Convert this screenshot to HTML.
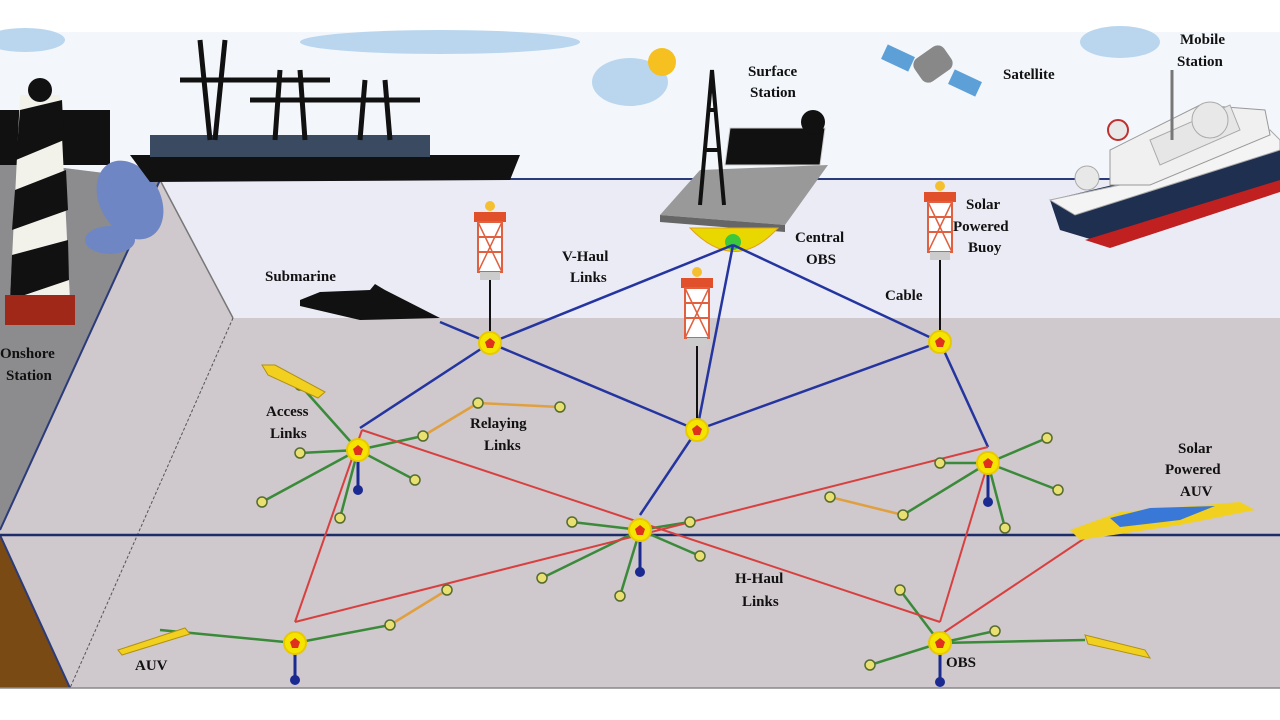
<!DOCTYPE html>
<html><head><meta charset="utf-8"><style>
html,body{margin:0;padding:0;background:#fff;}
svg{display:block;}
text{font-family:"Liberation Serif",serif;font-weight:bold;font-size:15px;fill:#111;}
</style></head><body>
<svg width="1280" height="720" viewBox="0 0 1280 720" xmlns="http://www.w3.org/2000/svg">
<defs>
<g id="node"><circle r="11" fill="#f5e400" stroke="#e8c800" stroke-width="2"/><polygon points="0,-5 5,-1 3,5 -3,5 -5,-1" fill="#e0301e"/></g>
<g id="leaf"><circle r="5" fill="#e8e070" stroke="#556b2f" stroke-width="1.5"/></g>
<g id="buoy"><rect x="-16" y="0" width="32" height="10" fill="#e0502a"/><rect x="-12" y="10" width="24" height="50" fill="#fff" stroke="#e06040" stroke-width="2"/><line x1="-12" y1="25" x2="12" y2="25" stroke="#e06040" stroke-width="2"/><line x1="-12" y1="40" x2="12" y2="40" stroke="#e06040" stroke-width="2"/><path d="M-12 10 L12 60 M12 10 L-12 60" stroke="#e06040" stroke-width="1.5"/><circle cx="0" cy="-6" r="5" fill="#f5c030"/><rect x="-10" y="60" width="20" height="8" fill="#ccc"/></g>
</defs>
<rect x="0" y="32" width="1280" height="148" fill="#f3f7fb"/>
<ellipse cx="25" cy="40" rx="40" ry="12" fill="#b9d6ee"/>
<ellipse cx="440" cy="42" rx="140" ry="12" fill="#b9d6ee"/>
<ellipse cx="1120" cy="42" rx="40" ry="16" fill="#b9d6ee"/>
<ellipse cx="630" cy="82" rx="38" ry="24" fill="#b9d6ee"/>
<circle cx="662" cy="62" r="14" fill="#f5c020"/>
<rect x="0" y="178" width="1280" height="142" fill="#ebebf6"/>
<line x1="0" y1="179" x2="1280" y2="179" stroke="#2b3b7a" stroke-width="2"/>
<rect x="0" y="318" width="1280" height="370" fill="#cfc8cc"/>
<polygon points="0,160 160,180 233,318 0,318" fill="#cfc8cc"/>
<polygon points="0,160 160,180 0,530" fill="#8c8c8e"/>
<line x1="160" y1="180" x2="233" y2="318" stroke="#777" stroke-width="1.5"/>
<line x1="160" y1="180" x2="0" y2="530" stroke="#2b3b7a" stroke-width="2"/>
<line x1="233" y1="318" x2="70" y2="688" stroke="#555" stroke-width="1" stroke-dasharray="3,2"/>
<polygon points="0,535 70,688 0,688" fill="#7a4a14"/>
<line x1="0" y1="535" x2="70" y2="688" stroke="#2b3b7a" stroke-width="2"/>
<line x1="0" y1="535" x2="1280" y2="535" stroke="#1d2d6a" stroke-width="2.5"/>
<line x1="0" y1="688" x2="1280" y2="688" stroke="#888" stroke-width="1.5"/>
<rect x="0" y="110" width="110" height="55" fill="#111"/>
<polygon points="20,95 60,95 70,300 10,300" fill="#f2f2ea"/>
<path d="M20,110 L62,100 L64,140 L16,160 Z M15,190 L66,170 L68,210 L12,230 Z M12,255 L68,240 L69,280 L10,300 Z" fill="#111"/>
<rect x="5" y="295" width="70" height="30" fill="#a02818"/>
<circle cx="40" cy="90" r="12" fill="#111"/>
<ellipse cx="130" cy="200" rx="30" ry="42" fill="#6f86c4" transform="rotate(-30 130 200)"/>
<ellipse cx="110" cy="240" rx="25" ry="14" fill="#6f86c4"/>
<polygon points="130,155 520,155 510,180 150,182" fill="#111"/>
<rect x="150" y="135" width="280" height="22" fill="#3a4a60"/>
<path d="M180,80 L330,80 M200,40 L210,140 M225,40 L215,140 M250,100 L370,100 M280,70 L275,140 M300,70 L305,140 M340,100 L420,100 M365,80 L360,140 M385,80 L390,140" stroke="#111" stroke-width="5" fill="none"/>
<polygon points="660,215 700,170 828,165 785,225" fill="#999"/>
<polygon points="660,215 785,225 785,232 660,222" fill="#666"/>
<polygon points="730,128 825,128 820,165 725,165" fill="#111" stroke="#ccc"/>
<path d="M700,205 L712,70 L724,205 M705,150 L720,150 M708,110 L717,110" stroke="#111" stroke-width="4" fill="none"/>
<path d="M690,228 Q735,275 778,228 Z" fill="#e8d800" stroke="#e0a020"/>
<circle cx="733" cy="242" r="8" fill="#3cc83c"/>
<circle cx="813" cy="122" r="12" fill="#111"/>
<rect x="883" y="50" width="30" height="16" fill="#5da0d8" transform="rotate(25 898 58)"/>
<rect x="950" y="75" width="30" height="16" fill="#5da0d8" transform="rotate(25 965 83)"/>
<rect x="915" y="50" width="36" height="28" rx="8" fill="#888" transform="rotate(-35 933 64)"/>
<!-- ship -->
<polygon points="1050,200 1280,145 1280,185 1110,245 1060,230" fill="#1f2f4f"/>
<polygon points="1085,240 1280,180 1280,192 1110,248" fill="#c02020"/>
<polygon points="1050,200 1120,185 1270,130 1280,140 1280,150 1075,215" fill="#f4f4f4" stroke="#aaa"/>
<polygon points="1110,185 1110,150 1200,105 1265,110 1270,135 1150,185" fill="#f0f0f0" stroke="#999"/>
<polygon points="1150,140 1230,105 1240,130 1160,165" fill="#e6e6e6" stroke="#aaa"/>
<line x1="1172" y1="70" x2="1172" y2="140" stroke="#777" stroke-width="3"/>
<circle cx="1210" cy="120" r="18" fill="#e8e8e8" stroke="#aaa"/>
<circle cx="1087" cy="178" r="12" fill="#e8e8e8" stroke="#aaa"/>
<circle cx="1118" cy="130" r="10" fill="#e8e8e8" stroke="#c03030" stroke-width="2"/>
<use href="#buoy" x="490" y="212"/><line x1="490" y1="280" x2="490" y2="332" stroke="#111" stroke-width="2"/>
<use href="#buoy" x="697" y="278"/><line x1="697" y1="346" x2="697" y2="420" stroke="#111" stroke-width="2"/>
<use href="#buoy" x="940" y="192"/><line x1="940" y1="260" x2="940" y2="332" stroke="#111" stroke-width="2"/>
<path d="M300,300 L320,292 L370,290 L375,284 L385,290 L440,318 L360,320 L300,306 Z" fill="#111"/>
<g stroke="#3a8a3a" stroke-width="2.5">
<line x1="358" y1="450" x2="300" y2="385"/><line x1="358" y1="450" x2="300" y2="453"/><line x1="358" y1="450" x2="262" y2="502"/><line x1="358" y1="450" x2="340" y2="518"/><line x1="358" y1="450" x2="423" y2="436"/><line x1="358" y1="450" x2="415" y2="480"/>
<line x1="640" y1="530" x2="572" y2="522"/><line x1="640" y1="530" x2="542" y2="578"/><line x1="640" y1="530" x2="620" y2="596"/><line x1="640" y1="530" x2="700" y2="556"/><line x1="640" y1="530" x2="690" y2="522"/>
<line x1="988" y1="463" x2="940" y2="463"/><line x1="988" y1="463" x2="1047" y2="438"/><line x1="988" y1="463" x2="1058" y2="490"/><line x1="988" y1="463" x2="1005" y2="528"/><line x1="988" y1="463" x2="903" y2="515"/>
<line x1="295" y1="643" x2="160" y2="630"/><line x1="295" y1="643" x2="390" y2="625"/>
<line x1="940" y1="643" x2="870" y2="665"/><line x1="940" y1="643" x2="995" y2="631"/><line x1="940" y1="643" x2="1085" y2="640"/><line x1="940" y1="643" x2="900" y2="590"/>
</g>
<g stroke="#e0a040" stroke-width="2.5">
<line x1="423" y1="436" x2="478" y2="403"/><line x1="478" y1="403" x2="560" y2="407"/><line x1="830" y1="497" x2="903" y2="515"/><line x1="390" y1="625" x2="447" y2="590"/>
</g>
<g stroke="#2535a0" stroke-width="2.5">
<line x1="733" y1="245" x2="490" y2="343"/><line x1="733" y1="245" x2="697" y2="430"/><line x1="733" y1="245" x2="940" y2="342"/>
<line x1="490" y1="343" x2="360" y2="428"/><line x1="490" y1="343" x2="697" y2="430"/><line x1="697" y1="430" x2="940" y2="342"/><line x1="940" y1="342" x2="988" y2="447"/><line x1="697" y1="430" x2="640" y2="515"/>
<line x1="440" y1="322" x2="490" y2="343"/>
</g>
<g stroke="#d84040" stroke-width="2">
<line x1="362" y1="430" x2="295" y2="622"/><line x1="295" y1="622" x2="988" y2="447"/><line x1="362" y1="430" x2="940" y2="622"/><line x1="988" y1="463" x2="940" y2="622"/><line x1="940" y1="635" x2="1085" y2="538"/>
</g>
<g stroke="#1a2a90" stroke-width="3"><line x1="358" y1="450" x2="358" y2="488"/><line x1="640" y1="530" x2="640" y2="570"/><line x1="988" y1="463" x2="988" y2="500"/><line x1="295" y1="643" x2="295" y2="680"/><line x1="940" y1="643" x2="940" y2="682"/></g>
<g fill="#1a2a90"><circle cx="358" cy="490" r="5"/><circle cx="640" cy="572" r="5"/><circle cx="988" cy="502" r="5"/><circle cx="295" cy="680" r="5"/><circle cx="940" cy="682" r="5"/></g>
<g>
<use href="#leaf" x="300" y="385"/><use href="#leaf" x="300" y="453"/><use href="#leaf" x="262" y="502"/><use href="#leaf" x="340" y="518"/><use href="#leaf" x="423" y="436"/><use href="#leaf" x="415" y="480"/><use href="#leaf" x="478" y="403"/><use href="#leaf" x="560" y="407"/>
<use href="#leaf" x="572" y="522"/><use href="#leaf" x="542" y="578"/><use href="#leaf" x="620" y="596"/><use href="#leaf" x="700" y="556"/><use href="#leaf" x="690" y="522"/>
<use href="#leaf" x="940" y="463"/><use href="#leaf" x="1047" y="438"/><use href="#leaf" x="1058" y="490"/><use href="#leaf" x="1005" y="528"/><use href="#leaf" x="903" y="515"/><use href="#leaf" x="830" y="497"/>
<use href="#leaf" x="390" y="625"/><use href="#leaf" x="447" y="590"/><use href="#leaf" x="870" y="665"/><use href="#leaf" x="995" y="631"/><use href="#leaf" x="900" y="590"/>
</g>
<use href="#node" x="490" y="343"/><use href="#node" x="697" y="430"/><use href="#node" x="940" y="342"/><use href="#node" x="358" y="450"/><use href="#node" x="640" y="530"/><use href="#node" x="988" y="463"/><use href="#node" x="295" y="643"/><use href="#node" x="940" y="643"/>
<polygon points="262,365 275,365 325,392 318,398 268,375" fill="#f2d020" stroke="#b09010"/>
<polygon points="118,650 185,628 190,634 122,655" fill="#f2d020" stroke="#b09010"/>
<polygon points="1085,635 1145,650 1150,658 1088,644" fill="#f2d020" stroke="#b09010"/>
<polygon points="1070,530 1120,512 1240,502 1255,510 1180,525 1080,540" fill="#f2d020"/>
<polygon points="1110,518 1150,508 1215,506 1180,520 1120,527" fill="#3a78d8"/>
<text x="748" y="76">Surface</text><text x="750" y="97">Station</text>
<text x="1003" y="79">Satellite</text>
<text x="1180" y="44">Mobile</text><text x="1177" y="66">Station</text>
<text x="966" y="209">Solar</text><text x="953" y="231">Powered</text><text x="968" y="252">Buoy</text>
<text x="795" y="242">Central</text><text x="806" y="264">OBS</text>
<text x="885" y="300">Cable</text>
<text x="562" y="261">V-Haul</text><text x="570" y="282">Links</text>
<text x="265" y="281">Submarine</text>
<text x="0" y="358">Onshore</text><text x="6" y="380">Station</text>
<text x="266" y="416">Access</text><text x="270" y="438">Links</text>
<text x="470" y="428">Relaying</text><text x="484" y="450">Links</text>
<text x="1178" y="453">Solar</text><text x="1165" y="474">Powered</text><text x="1180" y="496">AUV</text>
<text x="735" y="583">H-Haul</text><text x="742" y="606">Links</text>
<text x="135" y="670">AUV</text>
<text x="946" y="667">OBS</text>
</svg>
</body></html>
